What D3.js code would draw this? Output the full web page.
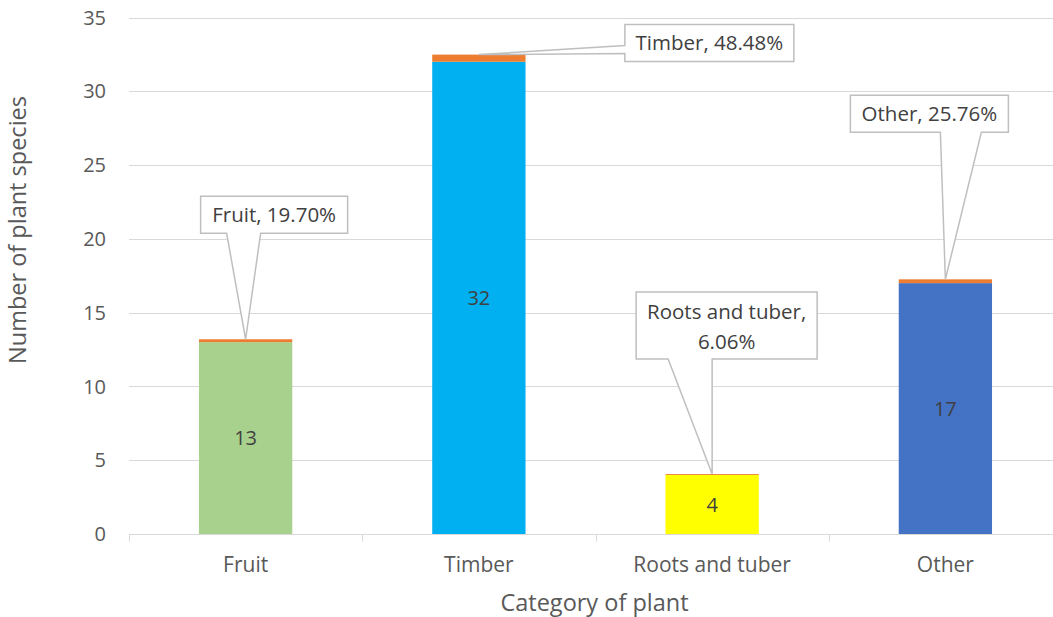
<!DOCTYPE html>
<html>
<head>
<meta charset="utf-8">
<script src="https://cdn.jsdelivr.net/npm/d3@7"></script>
<style>
  body { margin: 0; background: #fff; }
  text { font-family: "Open Sans", "Noto Sans", sans-serif; }
</style>
</head>
<body>
<div class="svgContainer"></div>
<script>
// data
let categories = ["Fruit", "Timber", "Roots and tuber", "Other"];
let counts = [13, 32, 4, 17];
let shares = [0.1970, 0.4848, 0.0606, 0.2576];
let yTicks = [0, 5, 10, 15, 20, 25, 30, 35];
let barColors = ["#A9D18E", "#00B0F0", "#FFFF00", "#4472C4"];

let w = 1053;
let h = 617;
let plotLeft = 129, plotRight = 1062, plotTop = 17.5, plotBottom = 534;

// callout layout, offsets from the bar top (px)
let callouts = [
    { x: -45, y: -143, w: 147, h: 37, side: "bottom", b1: -19, b2: 15, lines: 1 },
    { x: 146, y: -30, w: 169, h: 37, side: "left", b1: -9, b2: -1, lines: 1 },
    { x: -76, y: -182, w: 181, h: 67, side: "bottom", b1: -44, b2: 0, lines: 2 },
    { x: -95, y: -184, w: 158, h: 37, side: "bottom", b1: -5, b2: 36, lines: 1 }
];

let xScale = d3.scaleBand()
    .domain(categories)
    .range([plotLeft, plotRight])
    .paddingInner(0.6)
    .paddingOuter(0.3);

let yScale = d3.scaleLinear()
    .domain([0, 35])
    .range([plotBottom, plotTop]);

const svg = d3.select(".svgContainer")
    .append("svg")
    .attr("width", w)
    .attr("height", h);

// gridlines
svg.append("g")
    .selectAll("line")
    .data(yTicks.filter(d => d > 0))
    .enter()
    .append("line")
    .attr("x1", plotLeft)
    .attr("x2", plotRight)
    .attr("y1", d => Math.round(yScale(d)) + 0.5)
    .attr("y2", d => Math.round(yScale(d)) + 0.5)
    .attr("stroke", "#d9d9d9")
    .attr("stroke-width", 1);

// y tick labels
svg.append("g")
    .selectAll("text")
    .data(yTicks)
    .enter()
    .append("text")
    .attr("x", 106)
    .attr("y", d => yScale(d))
    .attr("dy", "0.36em")
    .attr("text-anchor", "end")
    .attr("fill", "#595959")
    .style("font-size", "20px")
    .text(d => d);

// bars
let bw = xScale.bandwidth();
svg.append("g")
    .selectAll("rect")
    .data(categories)
    .enter()
    .append("rect")
    .attr("x", d => xScale(d))
    .attr("y", (d, i) => yScale(counts[i]))
    .attr("width", bw)
    .attr("height", (d, i) => yScale(0) - yScale(counts[i]))
    .attr("fill", (d, i) => barColors[i]);

svg.append("g")
    .selectAll("rect")
    .data(categories)
    .enter()
    .append("rect")
    .attr("x", d => xScale(d))
    .attr("y", (d, i) => yScale(counts[i] + shares[i]))
    .attr("width", bw)
    .attr("height", (d, i) => yScale(counts[i]) - yScale(counts[i] + shares[i]))
    .attr("fill", "#ED7D31");

// value labels
svg.append("g")
    .selectAll("text")
    .data(categories)
    .enter()
    .append("text")
    .attr("x", d => xScale(d) + bw / 2)
    .attr("y", (d, i) => (yScale(0) + yScale(counts[i])) / 2)
    .attr("dy", "0.36em")
    .attr("text-anchor", "middle")
    .attr("fill", "#404040")
    .style("font-size", "20px")
    .text((d, i) => counts[i]);

// x axis
let gx = svg.append("g")
    .attr("transform", "translate(0," + (plotBottom + 0.5) + ")");
gx.append("line")
    .attr("x1", plotLeft)
    .attr("x2", plotRight)
    .attr("stroke", "#d9d9d9");
let bounds = categories.map(d => xScale(d) - xScale.step() * xScale.paddingInner() / 2);
gx.selectAll(".bound")
    .data(bounds)
    .enter()
    .append("line")
    .attr("x1", d => Math.round(d) + 0.5)
    .attr("x2", d => Math.round(d) + 0.5)
    .attr("y1", 0)
    .attr("y2", 7)
    .attr("stroke", "#d9d9d9");
svg.append("g")
    .selectAll("text")
    .data(categories)
    .enter()
    .append("text")
    .attr("x", d => xScale(d) + bw / 2)
    .attr("y", 572)
    .attr("text-anchor", "middle")
    .attr("fill", "#595959")
    .style("font-size", "21px")
    .text(d => d);

// axis titles
svg.append("text")
    .attr("x", (plotLeft + plotRight) / 2 - 1)
    .attr("y", 611)
    .attr("text-anchor", "middle")
    .attr("fill", "#595959")
    .style("font-size", "23.5px")
    .text("Category of plant");

svg.append("text")
    .attr("transform", "translate(26,230) rotate(-90)")
    .attr("text-anchor", "middle")
    .attr("fill", "#595959")
    .style("font-size", "23.5px")
    .text("Number of plant species");

// callouts
let cg = svg.append("g");
categories.forEach((d, i) => {
    let c = callouts[i];
    let ax = xScale(d) + bw / 2;
    let ay = yScale(counts[i] + shares[i]);
    let x0 = ax + c.x, y0 = ay + c.y, x1 = x0 + c.w, y1 = y0 + c.h;
    let p;
    if (c.side === "bottom") {
        p = "M" + x0 + "," + y0 + "H" + x1 + "V" + y1 + "H" + (ax + c.b2) +
            "L" + ax + "," + ay + "L" + (ax + c.b1) + "," + y1 + "H" + x0 + "Z";
    } else {
        p = "M" + x0 + "," + y0 + "H" + x1 + "V" + y1 + "H" + x0 + "V" + (ay + c.b2) +
            "L" + ax + "," + ay + "L" + x0 + "," + (ay + c.b1) + "Z";
    }
    cg.append("path")
        .attr("d", p)
        .attr("fill", "#fff")
        .attr("stroke", "#bfbfbf")
        .attr("stroke-width", 1.5);
    let pct = (shares[i] * 100).toFixed(2) + "%";
    let t = cg.append("text")
        .attr("text-anchor", "middle")
        .attr("fill", "#404040")
        .style("font-size", "20.5px");
    if (c.lines === 2) {
        t.append("tspan").attr("x", (x0 + x1) / 2).attr("y", y0 + 27).text(d + ",");
        t.append("tspan").attr("x", (x0 + x1) / 2).attr("y", y0 + 57).text(pct);
    } else {
        t.attr("x", (x0 + x1) / 2).attr("y", (y0 + y1) / 2).attr("dy", "0.36em").text(d + ", " + pct);
    }
});
</script>
</body>
</html>
